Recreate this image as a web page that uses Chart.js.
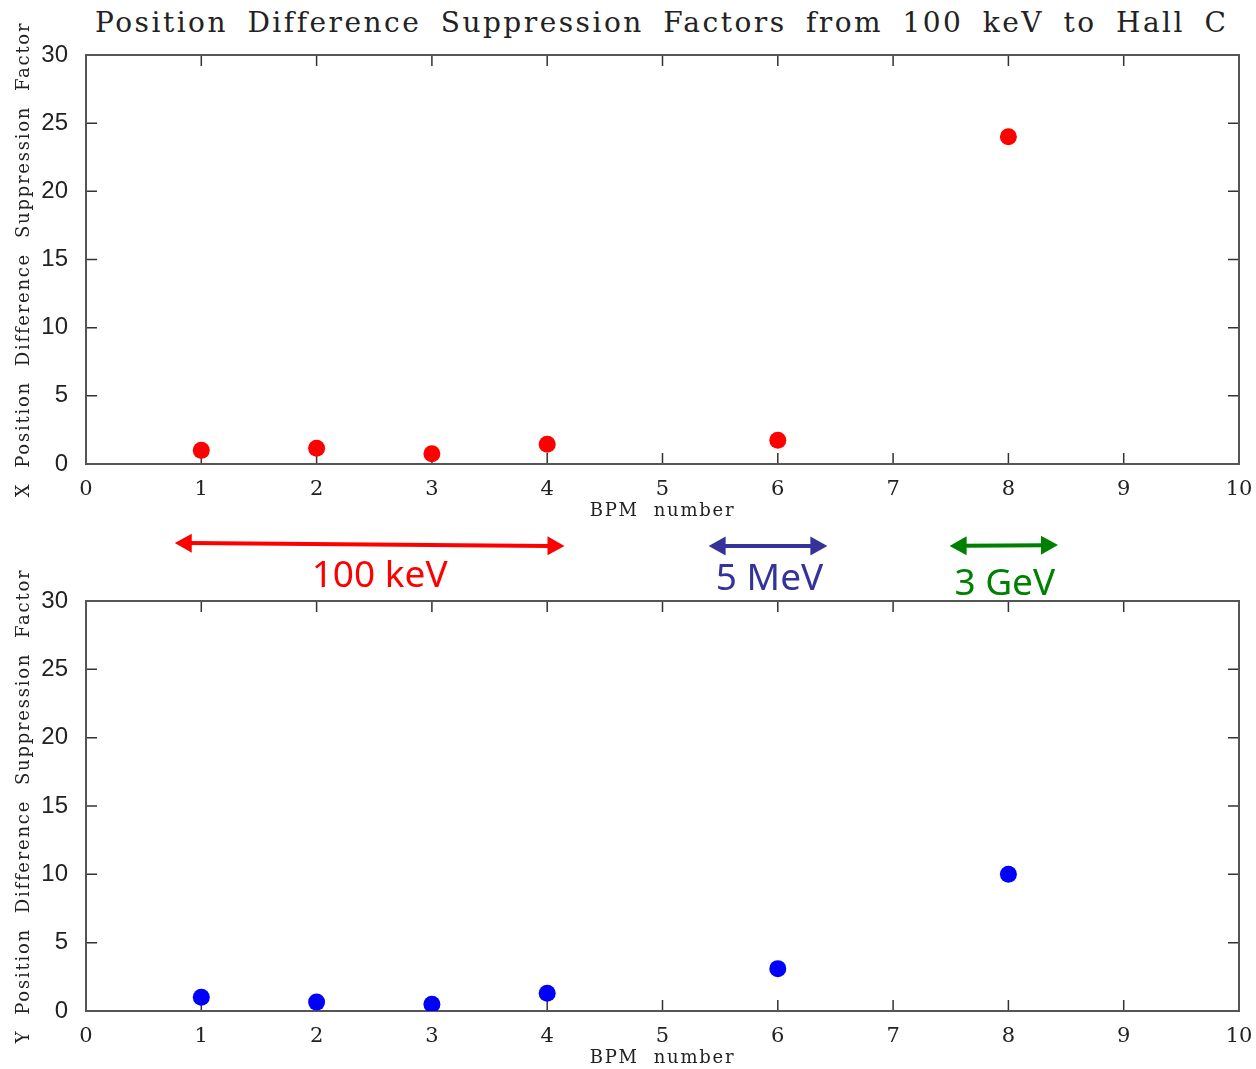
<!DOCTYPE html>
<html><head><meta charset="utf-8">
<script src="https://cdn.jsdelivr.net/npm/chart.js@4.4.1/dist/chart.umd.min.js"></script>
<style>
html,body{margin:0;padding:0;background:#fff;width:1256px;height:1069px;overflow:hidden;position:relative}
#title{position:absolute;left:95px;top:9px;font-family:"DejaVu Serif";font-size:28px;letter-spacing:2.5px;word-spacing:8px;white-space:nowrap;color:#222;line-height:28px}
canvas{position:absolute;left:0}
#c1{top:0;z-index:2}
#c2{top:545px;z-index:1}
</style></head><body>
<div id="title">Position Difference Suppression Factors from 100 keV to Hall C</div>
<canvas id="c1" width="1256" height="600"></canvas>
<canvas id="c2" width="1256" height="524"></canvas>
<script>
// ---- data ----
const bpmNumbers = [1, 2, 3, 4, 6, 8];
const xSuppression = [1.0, 1.15, 0.75, 1.45, 1.75, 24.0];
const ySuppression = [1.0, 0.65, 0.5, 1.3, 3.1, 10.0];
const xTickValues = [0, 1, 2, 3, 4, 5, 6, 7, 8, 9, 10];
const yTickValues = [0, 5, 10, 15, 20, 25, 30];
const xAxisTitle = 'BPM  number';
const yAxisTitleTop = 'X  Position  Difference  Suppression  Factor';
const yAxisTitleBottom = 'Y  Position  Difference  Suppression  Factor';
const energyLabels = ['100 keV', '5 MeV', '3 GeV'];
const energyStart = [0.77, 5.40, 7.49];
const energyEnd = [4.15, 6.43, 8.43];

// ---- styles ----
const energyColors = ['#ff0000', '#333399', '#008000'];
const arrowY = [[543, 546], [546, 546], [546, 545]];
const labelBaseline = [587, 590, 595];
const labelShift = [10, 1.5, 1];

function spacedTitle(scale) {
  if (scale._spacedTitle) return;
  scale._spacedTitle = true;
  const orig = scale.drawTitle;
  scale.drawTitle = function () {
    const c = this.ctx; c.save(); c.letterSpacing = '1.75px'; orig.call(this); c.restore();
  };
}

const frameTicks = {
  id: 'frameTicks',
  beforeDatasetsDraw(chart) {
    const { ctx, chartArea: a, scales: { x, y } } = chart;
    ctx.save();
    ctx.strokeStyle = '#333'; ctx.lineWidth = 1.5;
    ctx.beginPath();
    xTickValues.forEach(v => {
      const px = x.getPixelForValue(v);
      ctx.moveTo(px, a.bottom); ctx.lineTo(px, a.bottom - 11);
      ctx.moveTo(px, a.top); ctx.lineTo(px, a.top + 11);
    });
    yTickValues.forEach(v => {
      const py = y.getPixelForValue(v);
      ctx.moveTo(a.left, py); ctx.lineTo(a.left + 11, py);
      ctx.moveTo(a.right, py); ctx.lineTo(a.right - 11, py);
    });
    ctx.stroke();
    ctx.strokeStyle = '#555'; ctx.lineWidth = 2;
    ctx.strokeRect(a.left, a.top, a.right - a.left, a.bottom - a.top);
    ctx.restore();
  }
};

const energyBands = {
  id: 'energyBands',
  afterDraw(chart) {
    const { ctx, scales: { x } } = chart;
    ctx.save();
    energyLabels.forEach((lab, i) => {
      const x0 = x.getPixelForValue(energyStart[i]);
      const x1 = x.getPixelForValue(energyEnd[i]);
      const [y0, y1] = arrowY[i];
      const hl = 17, hh = 9.5;
      const col = energyColors[i];
      ctx.strokeStyle = col; ctx.fillStyle = col; ctx.lineWidth = 4;
      const dy = (y1 - y0) / (x1 - x0);
      ctx.beginPath();
      ctx.moveTo(x0 + hl - 2, y0 + dy * (hl - 2));
      ctx.lineTo(x1 - hl + 2, y1 - dy * (hl - 2));
      ctx.stroke();
      ctx.beginPath();
      ctx.moveTo(x0, y0);
      ctx.lineTo(x0 + hl, y0 + dy * hl - hh);
      ctx.lineTo(x0 + hl, y0 + dy * hl + hh);
      ctx.closePath(); ctx.fill();
      ctx.beginPath();
      ctx.moveTo(x1, y1);
      ctx.lineTo(x1 - hl, y1 - dy * hl - hh);
      ctx.lineTo(x1 - hl, y1 - dy * hl + hh);
      ctx.closePath(); ctx.fill();
      ctx.font = '37px "Noto Sans"';
      ctx.textAlign = 'center'; ctx.textBaseline = 'alphabetic';
      ctx.fillText(lab, (x0 + x1) / 2 + labelShift[i], labelBaseline[i]);
    });
    ctx.restore();
  }
};

function makeChart(id, values, color, yTitle, padTop, padBottom, extra) {
  return new Chart(document.getElementById(id), {
    type: 'scatter',
    data: {
      datasets: [{
        data: bpmNumbers.map((b, i) => ({ x: b, y: values[i] })),
        backgroundColor: color, borderColor: color, borderWidth: 0,
        pointRadius: 8.5, pointHoverRadius: 8.5
      }]
    },
    options: {
      responsive: false, animation: false,
      layout: { padding: { top: padTop, right: 17, left: 0, bottom: padBottom } },
      plugins: { legend: { display: false }, tooltip: { enabled: false }, title: { display: false } },
      scales: {
        x: {
          type: 'linear', min: 0, max: 10,
          afterFit(s) { s.height = 58; s.paddingLeft = 0; s.paddingRight = 0; spacedTitle(s); },
          grid: { display: false, drawTicks: false }, border: { display: false },
          ticks: { stepSize: 1, autoSkip: false, maxRotation: 0, padding: 13, color: '#222',
                   font: { family: 'DejaVu Serif', size: 21 } },
          title: { display: true, text: xAxisTitle, color: '#222', padding: { top: 0, bottom: 0 },
                   font: { family: 'DejaVu Serif', size: 18 } }
        },
        y: {
          type: 'linear', min: 0, max: 30,
          afterFit(s) { s.width = 86; s.paddingTop = 0; s.paddingBottom = 0; spacedTitle(s); },
          grid: { display: false, drawTicks: false }, border: { display: false },
          ticks: { stepSize: 5, padding: 18, color: '#222',
                   font: { family: 'Liberation Sans', size: 24 } },
          title: { display: true, text: yTitle, color: '#222', padding: { top: 14, bottom: 0 },
                   font: { family: 'DejaVu Serif', size: 18 } }
        }
      }
    },
    plugins: [frameTicks].concat(extra)
  });
}

makeChart('c1', xSuppression, '#ff0000', yAxisTitleTop, 55, 78, [energyBands]);
makeChart('c2', ySuppression, '#0000ff', yAxisTitleBottom, 56, 0, []);
</script>
</body></html>
